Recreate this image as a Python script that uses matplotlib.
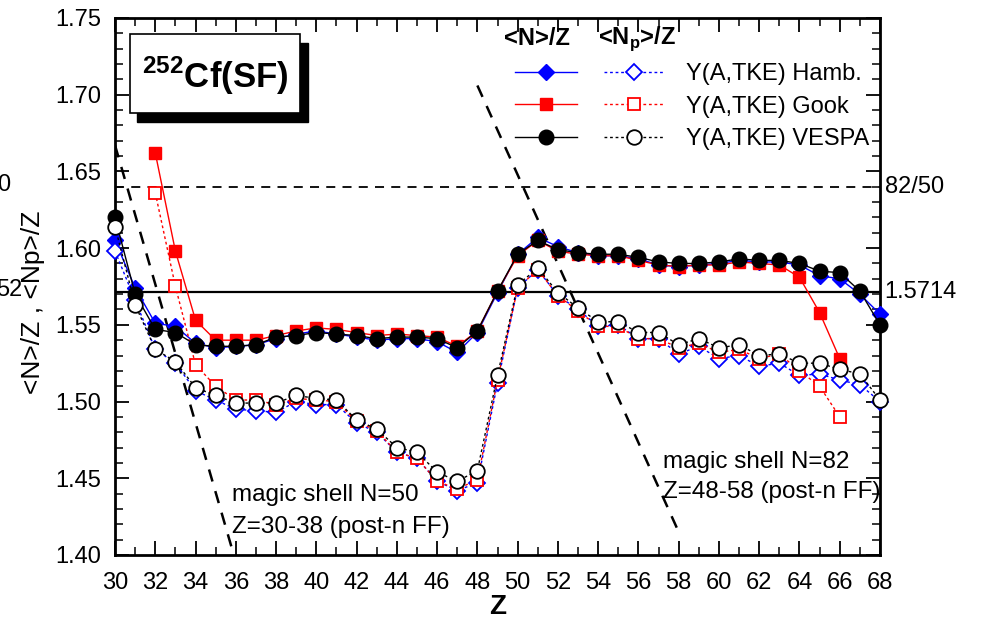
import matplotlib
matplotlib.use("Agg")
import matplotlib.pyplot as plt
from matplotlib.legend_handler import HandlerTuple
from matplotlib.patches import Rectangle
from matplotlib.ticker import MultipleLocator
import numpy as np

plt.rcParams['font.family'] = ['Liberation Sans', 'DejaVu Sans']
plt.rcParams['mathtext.fontset'] = 'custom'
plt.rcParams['mathtext.rm'] = 'Liberation Sans'
plt.rcParams['mathtext.bf'] = 'Liberation Sans:bold'

#--- Datos: <N>/Z y <Np>/Z en funcion de Z
z_todos = np.arange(30, 69)
z_gook = np.arange(32, 67)

hamb_n = [1.605, 1.574, 1.551, 1.549, 1.538, 1.535, 1.536, 1.537, 1.541, 1.544,
          1.546, 1.544, 1.542, 1.540, 1.541, 1.541, 1.539, 1.532, 1.545, 1.571,
          1.596, 1.607, 1.601, 1.597, 1.595, 1.595, 1.593, 1.589, 1.588, 1.589,
          1.590, 1.592, 1.591, 1.591, 1.589, 1.582, 1.580, 1.570, 1.557]
gook_n = [1.662, 1.598, 1.553, 1.540, 1.540, 1.540, 1.543, 1.546, 1.548, 1.547,
          1.545, 1.543, 1.544, 1.543, 1.542, 1.536, 1.546, 1.572, 1.595, 1.605,
          1.598, 1.596, 1.595, 1.595, 1.592, 1.589, 1.588, 1.589, 1.589, 1.591,
          1.590, 1.589, 1.581, 1.558, 1.528]
vespa_n = [1.620, 1.570, 1.547, 1.545, 1.537, 1.536, 1.536, 1.537, 1.542, 1.543,
           1.545, 1.544, 1.543, 1.541, 1.542, 1.542, 1.541, 1.535, 1.546, 1.572,
           1.596, 1.605, 1.599, 1.597, 1.596, 1.596, 1.594, 1.591, 1.590, 1.590,
           1.591, 1.593, 1.592, 1.592, 1.590, 1.585, 1.584, 1.572, 1.550]

hamb_np = [1.598, 1.566, 1.534, 1.525, 1.507, 1.501, 1.495, 1.494, 1.493, 1.500,
           1.498, 1.498, 1.486, 1.480, 1.467, 1.463, 1.448, 1.442, 1.447, 1.512,
           1.574, 1.586, 1.569, 1.560, 1.549, 1.550, 1.541, 1.541, 1.531, 1.536,
           1.528, 1.530, 1.523, 1.525, 1.517, 1.518, 1.514, 1.511, 1.500]
gook_np = [1.636, 1.575, 1.524, 1.510, 1.501, 1.501, 1.498, 1.502, 1.501, 1.500,
           1.487, 1.481, 1.467, 1.463, 1.448, 1.443, 1.449, 1.514, 1.574, 1.586,
           1.569, 1.559, 1.549, 1.549, 1.541, 1.541, 1.535, 1.538, 1.532, 1.534,
           1.528, 1.531, 1.520, 1.510, 1.490]
vespa_np = [1.614, 1.563, 1.534, 1.526, 1.509, 1.504, 1.499, 1.499, 1.499, 1.504,
            1.502, 1.501, 1.488, 1.482, 1.470, 1.467, 1.454, 1.448, 1.455, 1.517,
            1.576, 1.587, 1.571, 1.561, 1.552, 1.552, 1.545, 1.545, 1.537, 1.541,
            1.535, 1.537, 1.530, 1.531, 1.525, 1.525, 1.521, 1.518, 1.501]

# referencias horizontales y capas magicas
ref_8250 = 82 / 50
ref_15714 = 1.5714
capa50_z = [30.0, 35.9]
capa50_r = [1.667, 1.40]
capa82_z = [48.0, 58.0]
capa82_r = [1.706, 1.415]

etiquetas = ['Y(A,TKE) Hamb.', 'Y(A,TKE) Gook', 'Y(A,TKE) VESPA']

azul = '#0000FF'
rojo = '#FF0000'

fig = plt.figure(figsize=(9.84, 6.18), dpi=100)
ax = fig.add_axes([0.1169, 0.102, 0.7774, 0.8689])

# lineas de referencia
ax.axhline(ref_8250, color='black', lw=1.3, ls=(0, (5, 4)), zorder=1)
ax.axhline(ref_15714, color='black', lw=1.6, zorder=1)
ax.plot(capa50_z, capa50_r, color='black', lw=1.8, ls=(0, (5, 4)), zorder=1)
ax.plot(capa82_z, capa82_r, color='black', lw=1.8, ls=(0, (5, 4)), zorder=1)

# <N>/Z (simbolos llenos)
h1, = ax.plot(z_todos, hamb_n, color=azul, lw=1, marker='D', ms=8,
              mfc=azul, mec=azul, zorder=3, clip_on=False)
h2, = ax.plot(z_gook, gook_n, color=rojo, lw=1, marker='s', ms=9,
              mfc=rojo, mec=rojo, zorder=4, clip_on=False)
h3, = ax.plot(z_todos, vespa_n, color='black', lw=1, marker='o', ms=10.5,
              mfc='black', mec='black', zorder=5, clip_on=False)

# <Np>/Z (simbolos vacios)
o1, = ax.plot(z_todos, hamb_np, color=azul, lw=1, ls=(0, (2, 2)), marker='D',
              ms=8, mfc='white', mec=azul, mew=1.3, zorder=3, clip_on=False)
o2, = ax.plot(z_gook, gook_np, color=rojo, lw=1, ls=(0, (2, 2)), marker='s',
              ms=9, mfc='white', mec=rojo, mew=1.3, zorder=4, clip_on=False)
o3, = ax.plot(z_todos, vespa_np, color='black', lw=1, ls=(0, (2, 2)), marker='o',
              ms=10.5, mfc='white', mec='black', mew=1.3, zorder=5, clip_on=False)

ax.set_xlim(30, 68)
ax.set_ylim(1.40, 1.75)
ax.xaxis.set_major_locator(MultipleLocator(2))
ax.xaxis.set_minor_locator(MultipleLocator(1))
ax.yaxis.set_major_locator(MultipleLocator(0.05))
ax.yaxis.set_minor_locator(MultipleLocator(0.01))
ax.yaxis.set_major_formatter(plt.FormatStrFormatter('%.2f'))
ax.tick_params(which='both', direction='in', top=True, right=True, labelsize=17)
ax.tick_params(which='major', length=10, width=1.3)
ax.tick_params(which='minor', length=6, width=1.1)
ax.tick_params(axis='x', which='major', pad=12)
ax.tick_params(axis='y', which='major', pad=10)
for s in ax.spines.values():
    s.set_linewidth(2)

ax.set_xlabel('Z', fontsize=20, fontweight='bold', labelpad=0)
fig.text(33 / 984, 1 - 302 / 618, '<N>/Z , <Np>/Z', rotation=90,
         ha='center', va='center', fontsize=19)

# valores de referencia a la derecha
ax.text(1.006, ref_8250, '82/50', transform=ax.get_yaxis_transform(),
        ha='left', va='center', fontsize=17)
ax.text(1.006, ref_15714, '1.5714', transform=ax.get_yaxis_transform(),
        ha='left', va='center', fontsize=17)
fig.text(10 / 984, 1 - 185 / 618, '0', ha='right', va='center', fontsize=17)
fig.text(22 / 984, 1 - 290 / 618, '52', ha='right', va='center', fontsize=17)

# textos de capas magicas
ax.text(35.8, 1.439, 'magic shell N=50', fontsize=17.5, va='center')
ax.text(35.8, 1.418, 'Z=30-38 (post-n FF)', fontsize=17.5, va='center')
ax.text(57.2, 1.4606, 'magic shell N=82', fontsize=17.5, va='center')
ax.text(57.2, 1.441, 'Z=48-58 (post-n FF)', fontsize=17.5, va='center')

# caja con sombra
sombra = Rectangle((137 / 984, 1 - 122 / 618), 171 / 984, 79 / 618,
                   transform=fig.transFigure, facecolor='black', edgecolor='black',
                   zorder=6)
caja = Rectangle((130 / 984, 1 - 113 / 618), 170 / 984, 79 / 618,
                 transform=fig.transFigure, facecolor='white', edgecolor='black',
                 lw=1.2, zorder=7)
fig.patches.extend([sombra, caja])
fig.text(215 / 984, 1 - 76 / 618, r'$^{\mathbf{252}}$Cf(SF)', ha='center',
         va='center', fontsize=25, fontweight='bold', zorder=8)

# leyenda
leg = ax.legend([(h1, o1), (h2, o2), (h3, o3)], etiquetas,
                handler_map={tuple: HandlerTuple(ndivide=None, pad=1.14)},
                loc='upper left', bbox_to_anchor=(0.523, 0.916), frameon=False,
                fontsize=17, handlelength=6.35, handletextpad=0.9,
                labelspacing=0.45, borderpad=0, borderaxespad=0, numpoints=1)
ax.text(0.551, 0.962, '<N>/Z', transform=ax.transAxes, ha='center', va='center',
        fontsize=17, fontweight='bold')
ax.text(0.683, 0.962, r'<N$_{\mathbf{p}}$>/Z', transform=ax.transAxes,
        ha='center', va='center', fontsize=17, fontweight='bold')

fig.savefig('out.png', dpi=100)
